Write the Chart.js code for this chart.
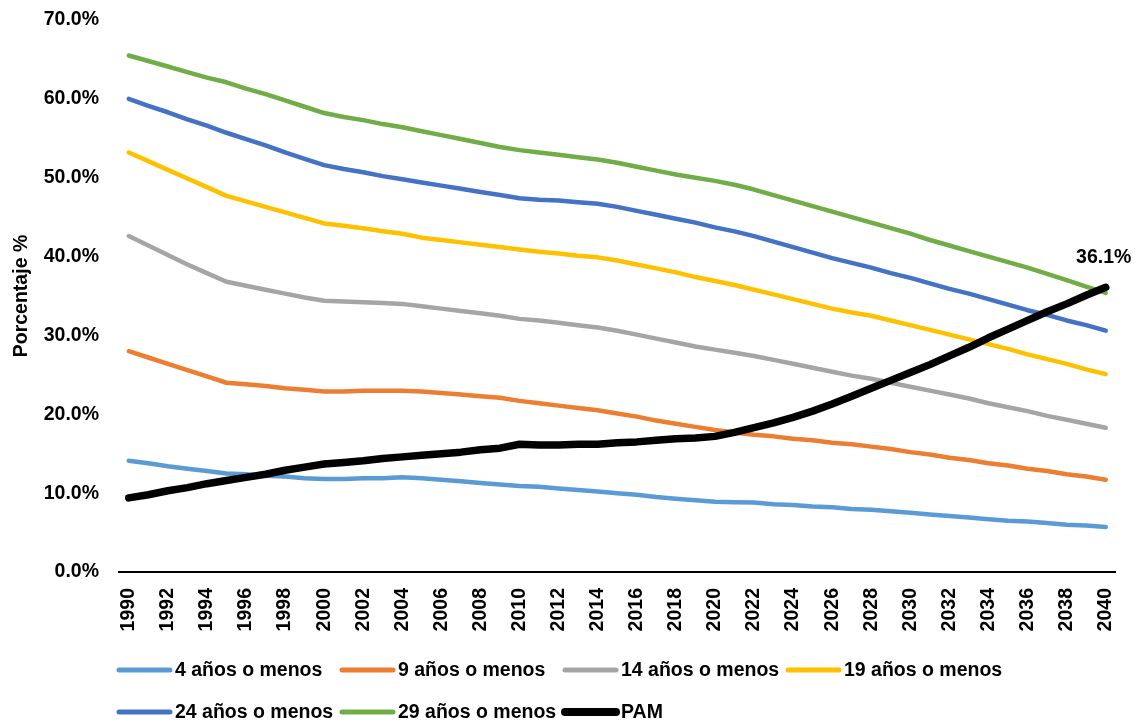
<!DOCTYPE html>
<html>
<head>
<meta charset="utf-8">
<script src="https://cdn.jsdelivr.net/npm/chart.js@4.4.0/dist/chart.umd.min.js"></script>
<style>
html,body{margin:0;padding:0;background:#fff;}
#wrap{width:1135px;height:724px;position:relative;}
</style>
</head>
<body>
<div id="wrap"><canvas id="c"></canvas></div>
<script>
const years = ['1990','1991','1992','1993','1994','1995','1996','1997','1998','1999',
  '2000','2001','2002','2003','2004','2005','2006','2007','2008','2009',
  '2010','2011','2012','2013','2014','2015','2016','2017','2018','2019',
  '2020','2021','2022','2023','2024','2025','2026','2027','2028','2029',
  '2030','2031','2032','2033','2034','2035','2036','2037','2038','2039','2040'];

const seriesNames = ['4 años o menos','9 años o menos','14 años o menos','19 años o menos','24 años o menos','29 años o menos','PAM'];

const age4 = [14.1,13.8,13.4,13.1,12.8,12.5,12.4,12.2,12.1,11.9,
  11.8,11.8,11.9,11.9,12.0,11.9,11.7,11.5,11.3,11.1,
  10.9,10.8,10.6,10.4,10.2,10.0,9.8,9.5,9.3,9.1,
  8.9,8.85,8.8,8.6,8.5,8.3,8.2,8.0,7.9,7.7,
  7.5,7.3,7.1,6.9,6.7,6.5,6.4,6.2,6.0,5.9,5.7];

const age9 = [28.0,27.2,26.4,25.6,24.8,24.0,23.8,23.6,23.3,23.1,
  22.9,22.9,23.0,23.0,23.0,22.9,22.7,22.5,22.3,22.1,
  21.7,21.4,21.1,20.8,20.5,20.1,19.7,19.2,18.8,18.4,
  18.0,17.7,17.4,17.2,16.9,16.7,16.4,16.2,15.9,15.6,
  15.2,14.9,14.5,14.2,13.8,13.5,13.1,12.8,12.4,12.1,11.7];

const age14 = [42.6,41.4,40.2,39.0,37.9,36.8,36.3,35.8,35.3,34.8,
  34.4,34.3,34.2,34.1,34.0,33.7,33.4,33.1,32.8,32.5,
  32.1,31.9,31.6,31.3,31.0,30.6,30.1,29.6,29.1,28.6,
  28.2,27.8,27.4,26.9,26.4,25.9,25.4,24.9,24.5,24.0,
  23.5,23.0,22.5,22.0,21.4,20.9,20.4,19.8,19.3,18.8,18.3];

const age19 = [53.2,52.1,51.0,49.9,48.8,47.7,47.0,46.3,45.6,44.9,
  44.2,43.9,43.6,43.2,42.9,42.4,42.1,41.8,41.5,41.2,
  40.9,40.6,40.4,40.1,39.9,39.5,39.0,38.5,38.0,37.4,
  36.9,36.4,35.8,35.2,34.6,34.0,33.4,32.9,32.5,31.9,
  31.3,30.7,30.1,29.5,28.9,28.3,27.6,27.0,26.4,25.7,25.1];

const age24 = [60.0,59.1,58.3,57.4,56.6,55.7,54.9,54.1,53.2,52.4,
  51.6,51.1,50.7,50.2,49.8,49.4,49.0,48.6,48.2,47.8,
  47.4,47.2,47.1,46.9,46.7,46.3,45.8,45.3,44.8,44.3,
  43.7,43.2,42.6,41.9,41.2,40.5,39.8,39.2,38.6,37.9,
  37.3,36.6,35.9,35.3,34.6,33.9,33.2,32.6,31.9,31.3,30.6];

const age29 = [65.5,64.8,64.1,63.4,62.7,62.1,61.3,60.6,59.8,59.0,
  58.2,57.7,57.3,56.8,56.4,55.9,55.4,54.9,54.4,53.9,
  53.5,53.2,52.9,52.6,52.3,51.9,51.4,50.9,50.4,50.0,
  49.6,49.1,48.5,47.8,47.1,46.4,45.7,45.0,44.3,43.6,
  42.9,42.1,41.4,40.7,40.0,39.3,38.6,37.8,37.0,36.2,35.4];

const pam = [9.4,9.8,10.3,10.7,11.2,11.6,12.0,12.4,12.9,13.3,
  13.7,13.9,14.1,14.4,14.6,14.8,15.0,15.2,15.5,15.7,
  16.2,16.1,16.1,16.2,16.2,16.4,16.5,16.7,16.9,17.0,
  17.2,17.7,18.3,18.9,19.6,20.4,21.3,22.3,23.3,24.3,
  25.3,26.3,27.4,28.5,29.7,30.8,31.9,33.0,34.0,35.1,36.1];

const yTicks = [0,10,20,30,40,50,60,70];

const colors = ['#5B9BD5','#ED7D31','#A5A5A5','#FFC000','#4472C4','#70AD47','#000000'];
const values = [age4, age9, age14, age19, age24, age29, pam];

const FONT = "'Liberation Sans', Arial, Helvetica, sans-serif";
const FSIZE = 19.5;

const datasets = values.map((v, i) => ({
  label: seriesNames[i],
  data: v,
  borderColor: colors[i],
  backgroundColor: colors[i],
  borderWidth: i === 6 ? 7.5 : 4.5,
  pointRadius: 0,
  pointHoverRadius: 0,
  tension: 0,
  fill: false,
  borderCapStyle: 'round',
  borderJoinStyle: 'round',
  clip: false,
  order: 7 - i
}));

const endLabel = {
  id: 'endLabel',
  afterDatasetsDraw(chart) {
    const idx = chart.data.datasets.length - 1;
    const meta = chart.getDatasetMeta(idx);
    const pt = meta.data[meta.data.length - 1];
    const ctx = chart.ctx;
    ctx.save();
    ctx.font = 'bold ' + FSIZE + 'px ' + FONT;
    ctx.fillStyle = '#000';
    ctx.textAlign = 'center';
    ctx.textBaseline = 'middle';
    ctx.fillText(pam[pam.length - 1].toFixed(1) + '%', pt.x - 2, pt.y - 30);
    ctx.restore();
  }
};

const gridLegend = {
  id: 'gridLegend',
  afterDraw(chart) {
    const ctx = chart.ctx;
    ctx.save();
    ctx.font = 'bold ' + FSIZE + 'px ' + FONT;
    ctx.textAlign = 'left';
    ctx.textBaseline = 'middle';
    chart.data.datasets.forEach((ds, i) => {
      const col = i < 4 ? i : i - 4;
      const row = i < 4 ? 0 : 1;
      const x = 117 + col * 223;
      const y = 670 + row * 42;
      ctx.strokeStyle = ds.borderColor;
      ctx.lineWidth = i === 6 ? 8 : 5;
      ctx.lineCap = 'round';
      ctx.beginPath();
      ctx.moveTo(x + 2, y);
      ctx.lineTo(x + 53, y);
      ctx.stroke();
      ctx.fillStyle = '#000';
      ctx.fillText(ds.label, x + 58, y + 1);
    });
    ctx.restore();
  }
};

new Chart(document.getElementById('c'), {
  type: 'line',
  data: { labels: years, datasets: datasets },
  options: {
    responsive: true,
    maintainAspectRatio: false,
    animation: false,
    layout: { padding: { top: 20, right: 19.5, bottom: 0, left: 0 } },
    plugins: {
      legend: { display: false },
      tooltip: { enabled: false }
    },
    scales: {
      x: {
        type: 'category',
        offset: true,
        grid: { display: false, drawTicks: false },
        border: { display: true, color: '#000', width: 2 },
        ticks: {
          autoSkip: false,
          minRotation: 90,
          maxRotation: 90,
          padding: 16,
          color: '#000',
          font: { family: FONT, size: FSIZE, weight: 'bold' },
          callback: function(val, idx) { return idx % 2 === 0 ? years[idx] : ''; }
        },
        afterFit: function(s) { s.height = 152; s.paddingLeft = 0; s.paddingRight = 0; }
      },
      y: {
        min: 0,
        max: 70,
        afterBuildTicks: function(s) { s.ticks = yTicks.map(v => ({ value: v })); },
        grid: { display: false, drawTicks: false },
        border: { display: false },
        ticks: {
          padding: 20,
          color: '#000',
          font: { family: FONT, size: FSIZE, weight: 'bold' },
          callback: function(v) { return v.toFixed(1) + '%'; }
        },
        title: {
          display: true,
          text: 'Porcentaje %',
          color: '#000',
          padding: { top: 10, bottom: 4 },
          font: { family: FONT, size: FSIZE, weight: 'bold' }
        },
        afterFit: function(s) { s.width = 119; s.paddingTop = 0; s.paddingBottom = 0; }
      }
    }
  },
  plugins: [endLabel, gridLegend]
});
</script>
</body>
</html>
